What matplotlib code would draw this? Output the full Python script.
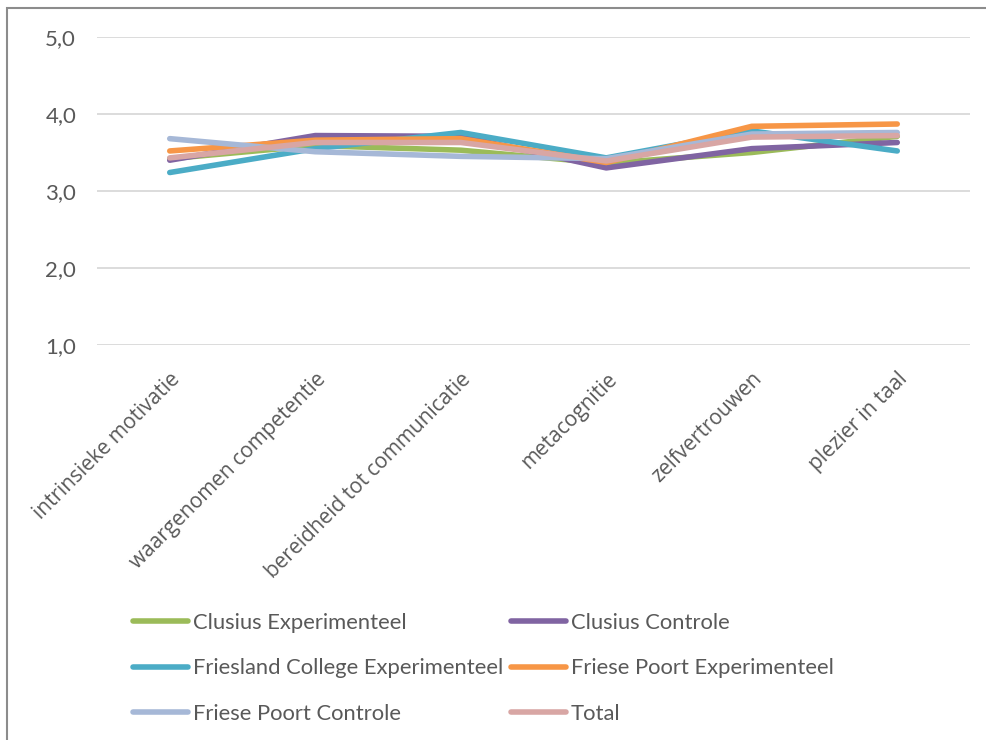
import numpy as np
import matplotlib
matplotlib.use('Agg')
import matplotlib.pyplot as plt
from matplotlib.patches import Rectangle
from matplotlib.ticker import FixedLocator, FuncFormatter

categories = ['intrinsieke motivatie', 'waargenomen competentie', 'bereidheid tot communicatie',
              'metacognitie', 'zelfvertrouwen', 'plezier in taal']

series_names = ['Clusius Experimenteel', 'Clusius Controle', 'Friesland College Experimenteel',
                'Friese Poort Experimenteel', 'Friese Poort Controle', 'Total']

clusius_exp = [3.42, 3.59, 3.53, 3.36, 3.50, 3.71]
clusius_ctrl = [3.40, 3.72, 3.71, 3.30, 3.55, 3.63]
friesland_exp = [3.24, 3.55, 3.76, 3.43, 3.78, 3.52]
friese_poort_exp = [3.52, 3.66, 3.68, 3.37, 3.84, 3.87]
friese_poort_ctrl = [3.68, 3.51, 3.45, 3.42, 3.74, 3.76]
total = [3.43, 3.63, 3.63, 3.39, 3.70, 3.72]

colors = ['#9BBB59', '#8064A2', '#4BACC6', '#F79646', '#A6B8D7', '#D8A6A4']
y_ticks = [1.0, 2.0, 3.0, 4.0, 5.0]

fig = plt.figure(figsize=(9.86, 7.40), dpi=100)
ax = fig.add_axes([97 / 986, 1 - 345 / 740, 873 / 986, 308 / 740])

# outer chart frame
fig.patches.append(Rectangle((6.5 / 986, -0.05), 1.2, 1 - 8 / 740 + 0.05, transform=fig.transFigure,
                             fill=False, edgecolor='#8c8c8c', linewidth=1.5, zorder=0))

x = np.arange(len(categories))
all_series = [clusius_exp, clusius_ctrl, friesland_exp, friese_poort_exp, friese_poort_ctrl, total]
lines = []
for vals, name, c in zip(all_series, series_names, colors):
    ln, = ax.plot(x, vals, color=c, linewidth=4.0, solid_capstyle='round',
                  solid_joinstyle='round', label=name)
    lines.append(ln)

ax.set_xlim(-0.5, len(categories) - 0.5)
ax.set_ylim(1.0, 5.0)
ax.yaxis.set_major_locator(FixedLocator(y_ticks))
ax.yaxis.set_major_formatter(FuncFormatter(lambda v, p: ('%.1f' % v).replace('.', ',')))
ax.grid(axis='y', color='#D9D9D9', linewidth=1.3)
ax.set_axisbelow(True)
for s in ax.spines.values():
    s.set_visible(False)
ax.tick_params(axis='both', length=0)
ax.tick_params(axis='y', labelsize=16, labelcolor='#595959', pad=15)
for lab in ax.get_yticklabels():
    lab.set_family('Lato')

ax.set_xticks(x)
ax.set_xticklabels(categories, rotation=45, ha='right', va='top', rotation_mode='anchor',
                   fontsize=15, color='#595959', family='Open Sans')
ax.tick_params(axis='x', pad=17)

# legend laid out row by row: two columns
order = [0, 2, 4, 1, 3, 5]
leg = fig.legend([lines[i] for i in order], [series_names[i] for i in order],
                 loc='upper left', bbox_to_anchor=(124 / 986, 1 - 604 / 740), ncol=2,
                 frameon=False, prop={'family': 'Lato', 'size': 15.8},
                 handlelength=2.5, handletextpad=0.23, labelspacing=1.17, columnspacing=0.36,
                 borderaxespad=0)
for t in leg.get_texts():
    t.set_color('#595959')

fig.savefig('out.png', dpi=100)
